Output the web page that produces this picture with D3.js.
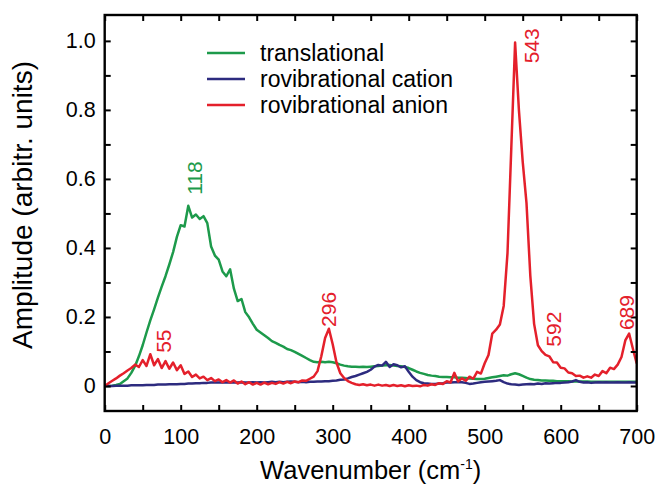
<!DOCTYPE html>
<html>
<head>
<meta charset="utf-8">
<script src="https://cdn.jsdelivr.net/npm/d3@7"></script>
<style>
  body { margin: 0; background: #fff; }
  svg text { font-family: "Liberation Sans", Arial, sans-serif; fill: #000; }
</style>
</head>
<body>
<svg id="chart" width="659" height="484"></svg>
<script>
// sampling grid of the spectra (cm-1)
var wavenumber = d3.range(0, 705, 5);

var translational = [
  0.000, 0.000, 0.001, 0.003, 0.006, 0.014, 0.022, 0.038, 0.058, 0.086,
  0.118, 0.155, 0.190, 0.222, 0.256, 0.288, 0.318, 0.352, 0.388, 0.432,
  0.466, 0.462, 0.522, 0.488, 0.497, 0.484, 0.492, 0.472, 0.404, 0.378,
  0.366, 0.332, 0.318, 0.338, 0.282, 0.246, 0.252, 0.214, 0.199, 0.180,
  0.163, 0.155, 0.147, 0.139, 0.130, 0.125, 0.119, 0.114, 0.107, 0.104,
  0.099, 0.093, 0.087, 0.081, 0.075, 0.070, 0.069, 0.070, 0.069, 0.070,
  0.069, 0.066, 0.062, 0.059, 0.057, 0.056, 0.056, 0.055, 0.056, 0.055,
  0.056, 0.057, 0.058, 0.059, 0.060, 0.061, 0.059, 0.058, 0.057, 0.055,
  0.052, 0.047, 0.042, 0.038, 0.035, 0.032, 0.030, 0.029, 0.027, 0.026,
  0.026, 0.025, 0.025, 0.024, 0.024, 0.023, 0.022, 0.021, 0.020, 0.020,
  0.021, 0.023, 0.025, 0.027, 0.029, 0.031, 0.030, 0.034, 0.037, 0.034,
  0.029, 0.024, 0.020, 0.018, 0.017, 0.016, 0.016, 0.015, 0.015, 0.014,
  0.014, 0.014, 0.014, 0.013, 0.013, 0.013, 0.013, 0.013, 0.012, 0.012,
  0.012, 0.012, 0.012, 0.012, 0.012, 0.012, 0.012, 0.012, 0.012, 0.012,
  0.012
];

var cation = [
  0.000, 0.000, 0.000, 0.001, 0.001, 0.001, 0.001, 0.002, 0.002, 0.002,
  0.002, 0.003, 0.003, 0.003, 0.004, 0.004, 0.004, 0.005, 0.005, 0.005,
  0.006, 0.006, 0.007, 0.007, 0.008, 0.008, 0.009, 0.009, 0.010, 0.010,
  0.010, 0.011, 0.010, 0.011, 0.010, 0.010, 0.011, 0.010, 0.010, 0.011,
  0.010, 0.011, 0.010, 0.011, 0.012, 0.011, 0.012, 0.011, 0.012, 0.013,
  0.012, 0.011, 0.012, 0.011, 0.012, 0.012, 0.013, 0.013, 0.014, 0.014,
  0.015, 0.016, 0.018, 0.019, 0.022, 0.026, 0.029, 0.033, 0.037, 0.041,
  0.047, 0.056, 0.061, 0.059, 0.070, 0.055, 0.063, 0.060, 0.054, 0.057,
  0.041, 0.027, 0.017, 0.011, 0.008, 0.007, 0.006, 0.006, 0.007, 0.008,
  0.010, 0.010, 0.011, 0.011, 0.011, 0.009, 0.006, 0.007, 0.009, 0.011,
  0.012, 0.013, 0.014, 0.015, 0.017, 0.011, 0.007, 0.005, 0.004, 0.003,
  0.004, 0.005, 0.006, 0.005, 0.007, 0.006, 0.008, 0.007, 0.008, 0.009,
  0.009, 0.010, 0.011, 0.013, 0.017, 0.012, 0.010, 0.011, 0.009, 0.010,
  0.011, 0.010, 0.011, 0.010, 0.010, 0.011, 0.010, 0.010, 0.011, 0.010,
  0.010
];

var anion = [
  0.000, 0.008, 0.015, 0.022, 0.030, 0.037, 0.045, 0.052, 0.062, 0.055,
  0.075, 0.058, 0.092, 0.060, 0.078, 0.052, 0.072, 0.050, 0.068, 0.046,
  0.060, 0.035, 0.042, 0.026, 0.033, 0.022, 0.027, 0.017, 0.023, 0.014,
  0.019, 0.011, 0.017, 0.010, 0.016, 0.007, 0.013, 0.005, 0.011, 0.004,
  0.009, 0.004, 0.010, 0.005, 0.009, 0.006, 0.011, 0.007, 0.012, 0.008,
  0.013, 0.011, 0.016, 0.015, 0.021, 0.027, 0.043, 0.086, 0.139, 0.166,
  0.121, 0.068, 0.037, 0.023, 0.014, 0.009, 0.005, 0.003, 0.005, 0.002,
  0.004, 0.001, 0.004, 0.001, 0.003, 0.000, 0.003, 0.000, 0.002, -0.001,
  0.002, 0.000, 0.001, -0.001, 0.003, 0.001, 0.005, 0.003, 0.008, 0.006,
  0.014, 0.010, 0.038, 0.013, 0.022, 0.015, 0.027, 0.021, 0.041, 0.036,
  0.066, 0.090, 0.152, 0.163, 0.178, 0.232, 0.385, 0.690, 0.995, 0.800,
  0.650, 0.530, 0.320, 0.180, 0.118, 0.101, 0.090, 0.086, 0.069, 0.068,
  0.053, 0.051, 0.039, 0.037, 0.029, 0.030, 0.024, 0.028, 0.024, 0.033,
  0.029, 0.043, 0.037, 0.053, 0.049, 0.062, 0.084, 0.132, 0.152, 0.108,
  0.065
];

var seriesNames = ['translational', 'rovibrational cation', 'rovibrational anion'];
var seriesValues = [translational, cation, anion];
var colors = ['#1d9a4b', '#2d2b7f', '#e4202b'];

// peak labels: text, series index, label centre (cm-1), label foot (amplitude)
var peakLabels = ['118', '55', '296', '543', '592', '689'];
var peakSeries = [0, 2, 2, 2, 2, 2];
var peakX = [117.5, 76.7, 295, 562, 590, 687];
var peakY = [0.554, 0.096, 0.171, 0.935, 0.114, 0.162];

var xTicks = d3.range(0, 701, 50);
var yTicks = d3.range(0, 11).map(function (i) { return i / 10; });

var svg = d3.select('#chart');
var plotL = 104.7, plotR = 636.7, plotT = 15, plotB = 411;

var x = d3.scaleLinear().domain([0, 700]).range([plotL, plotR]);
var y = d3.scaleLinear().domain([-0.0725, 1.075]).range([plotB, plotT]);

svg.append('defs').append('clipPath').attr('id', 'plot')
  .append('rect')
  .attr('x', plotL).attr('y', plotT)
  .attr('width', plotR - plotL).attr('height', plotB - plotT);

var line = d3.line()
  .x(function (d) { return x(d[0]); })
  .y(function (d) { return y(d[1]); });

var plot = svg.append('g').attr('clip-path', 'url(#plot)');
seriesValues.forEach(function (vals, i) {
  plot.append('path')
    .datum(wavenumber.map(function (w, j) { return [w, vals[j]]; }))
    .attr('fill', 'none')
    .attr('stroke', colors[i])
    .attr('stroke-width', 2.5)
    .attr('stroke-linejoin', 'round')
    .attr('d', line);
});

// axes, ticks pointing inward on all four sides
var xFmt = function (d) { return d % 100 == 0 ? d : ''; };
var yFmt = function (d) {
  var k = Math.round(d * 10);
  if (k % 2) return '';
  return k == 0 ? '0' : d3.format('.1f')(d);
};

var gx = svg.append('g').attr('transform', 'translate(0,' + plotB + ')')
  .call(d3.axisBottom(x).tickValues(xTicks).tickFormat(xFmt).tickSizeInner(-6).tickSizeOuter(0).tickPadding(18));
var gy = svg.append('g').attr('transform', 'translate(' + plotL + ',0)')
  .call(d3.axisLeft(y).tickValues(yTicks).tickFormat(yFmt).tickSizeInner(-6).tickSizeOuter(0).tickPadding(9));
var gt = svg.append('g').attr('transform', 'translate(0,' + plotT + ')')
  .call(d3.axisTop(x).tickValues(xTicks).tickFormat('').tickSizeInner(-6).tickSizeOuter(0));
var gr = svg.append('g').attr('transform', 'translate(' + plotR + ',0)')
  .call(d3.axisRight(y).tickValues(yTicks).tickFormat('').tickSizeInner(-6).tickSizeOuter(0));

[gx, gy, gt, gr].forEach(function (g) {
  g.select('.domain').remove();
  g.selectAll('line').attr('stroke', '#000').attr('stroke-width', 2);
  g.selectAll('text').style('font-size', '21.5px').attr('fill', '#000');
});

svg.append('rect')
  .attr('x', plotL).attr('y', plotT)
  .attr('width', plotR - plotL).attr('height', plotB - plotT)
  .attr('fill', 'none').attr('stroke', '#000').attr('stroke-width', 2.4);

// axis titles
var xt = svg.append('text')
  .attr('x', (plotL + plotR) / 2).attr('y', 479)
  .attr('text-anchor', 'middle')
  .style('font-size', '25.5px')
  .text('Wavenumber (cm');
xt.append('tspan').attr('dy', -10).style('font-size', '14px').text('-1');
xt.append('tspan').attr('dy', 10).text(')');

svg.append('text')
  .attr('transform', 'translate(32,' + 205 + ') rotate(-90)')
  .attr('text-anchor', 'middle')
  .style('font-size', '28px')
  .text('Amplitude (arbitr. units)');

// legend
var legend = svg.append('g');
seriesNames.forEach(function (name, i) {
  var ly = 53 + i * 26;
  legend.append('line')
    .attr('x1', 207).attr('x2', 245)
    .attr('y1', ly).attr('y2', ly)
    .attr('stroke', colors[i]).attr('stroke-width', 2.5);
  legend.append('text')
    .attr('x', 260).attr('y', ly + 8)
    .style('font-size', '23px')
    .text(name);
});

// peak annotations
peakLabels.forEach(function (t, i) {
  svg.append('text')
    .attr('transform', 'translate(' + x(peakX[i]) + ',' + y(peakY[i]) + ') rotate(-90)')
    .attr('dy', '0.36em')
    .style('fill', colors[peakSeries[i]])
    .style('font-size', '21px')
    .text(t);
});
</script>
</body>
</html>
